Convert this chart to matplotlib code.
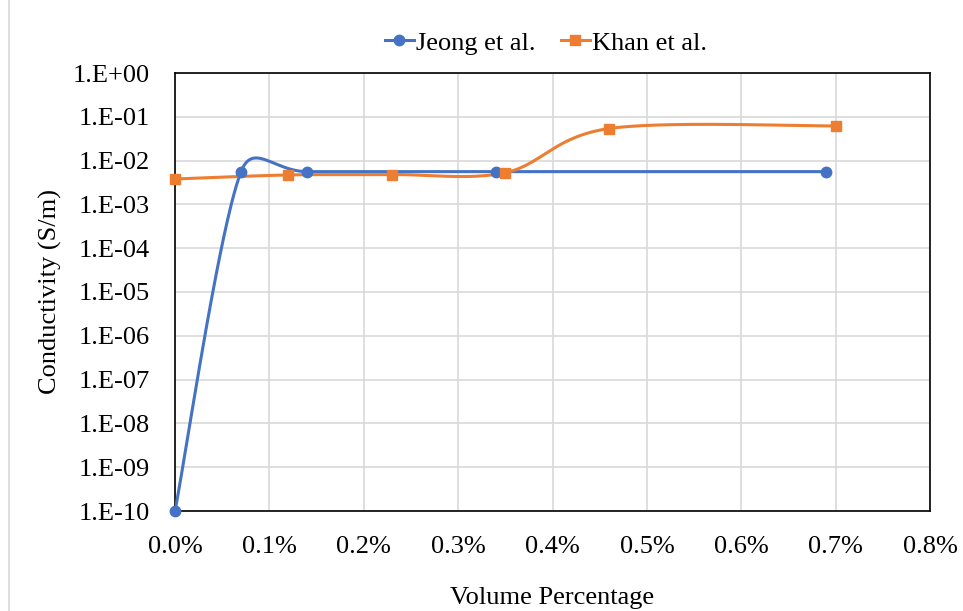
import numpy as np
import matplotlib
matplotlib.use("Agg")
import matplotlib.pyplot as plt
from matplotlib.ticker import FuncFormatter, FixedLocator
from matplotlib.lines import Line2D

plt.rcParams['font.family'] = ['Liberation Serif', 'DejaVu Serif']

# Data (x in volume percent, y in S/m)
jeong_x = [0.0, 0.07, 0.14, 0.34, 0.69]
jeong_y = [1e-10, 5.6e-3, 5.6e-3, 5.6e-3, 5.6e-3]
khan_x = [0.0, 0.12, 0.23, 0.35, 0.46, 0.70]
khan_y = [3.8e-3, 4.7e-3, 4.8e-3, 5.3e-3, 5.4e-2, 6.2e-2]

x_ticks = [0.0, 0.1, 0.2, 0.3, 0.4, 0.5, 0.6, 0.7, 0.8]
y_exps = list(range(-10, 1))

blue = '#4472C4'
orange = '#ED7D31'
grid_c = '#D9D9D9'


def excel_smooth(ax, xs, ys, n=60):
    # catmull-rom style bezier in pixel space, control arms clamped
    # to half of the segment length (close to excel's smoothed line)
    P = ax.transData.transform(np.column_stack([xs, ys]))
    m = len(P)
    tang = []
    for i in range(m):
        a = P[max(i - 1, 0)]
        b = P[min(i + 1, m - 1)]
        tang.append((b - a) / 6.0)
    out = [P[0]]
    for i in range(m - 1):
        p1, p2 = P[i], P[i + 1]
        seg_len = np.linalg.norm(p2 - p1)
        t1, t2 = tang[i], tang[i + 1]
        l1, l2 = np.linalg.norm(t1), np.linalg.norm(t2)
        if l1 > seg_len / 2:
            t1 = t1 * (seg_len / 2) / l1
        if l2 > seg_len / 2:
            t2 = t2 * (seg_len / 2) / l2
        c1 = p1 + t1
        c2 = p2 - t2
        t = np.linspace(0, 1, n)[1:, None]
        seg = (1 - t) ** 3 * p1 + 3 * (1 - t) ** 2 * t * c1 + 3 * (1 - t) * t ** 2 * c2 + t ** 3 * p2
        out.extend(seg)
    out = np.array(out)
    return ax.transData.inverted().transform(out)


fig = plt.figure(figsize=(9.63, 6.11), dpi=100)
ax = fig.add_axes([175 / 963, 1 - 511 / 611, 755 / 963, 438 / 611])

ax.set_yscale('log')
ax.set_xlim(0, 0.8)
ax.set_ylim(1e-10, 1)

ax.xaxis.set_major_locator(FixedLocator(x_ticks))
ax.yaxis.set_major_locator(FixedLocator([10.0 ** e for e in y_exps]))
ax.yaxis.set_minor_locator(FixedLocator([]))
ax.xaxis.set_major_formatter(FuncFormatter(lambda v, p: f"{v:.1f}%"))
ax.yaxis.set_major_formatter(FuncFormatter(lambda v, p: f"1.E{int(round(np.log10(v))):+03d}"))

ax.grid(True, color=grid_c, linewidth=1.2)
ax.set_axisbelow(True)
for s in ax.spines.values():
    s.set_color('black')
    s.set_linewidth(1.2)
ax.tick_params(axis='both', length=0, labelsize=19)
ax.tick_params(axis='y', pad=18)
ax.tick_params(axis='x', pad=18)

js = excel_smooth(ax, jeong_x, jeong_y)
ks = excel_smooth(ax, khan_x, khan_y)
ax.plot(js[:, 0], js[:, 1], color=blue, lw=2.2, solid_capstyle='round', zorder=3)
ax.plot(ks[:, 0], ks[:, 1], color=orange, lw=2.2, solid_capstyle='round', zorder=3)
ax.plot(jeong_x, jeong_y, 'o', color=blue, ms=7.5, zorder=4, clip_on=False)
ax.plot(khan_x, khan_y, 's', color=orange, ms=7, zorder=4, clip_on=False)

ax.set_xlabel('Volume Percentage', fontsize=19, labelpad=21)
ax.set_ylabel('Conductivity (S/m)', fontsize=19, labelpad=8)

handles = [Line2D([], [], color=blue, lw=2.2, marker='o', ms=7.5),
           Line2D([], [], color=orange, lw=2.2, marker='s', ms=7)]
fig.legend(handles, ['Jeong et al.', 'Khan et al.'], loc='center',
           bbox_to_anchor=(546 / 963, 1 - 43 / 611), ncol=2, frameon=False,
           fontsize=19, handlelength=1.1, handletextpad=0.1, columnspacing=0.95)

# light chart border
fig.add_artist(Line2D([9 / 963, 9 / 963], [0, 1], transform=fig.transFigure,
                      color=grid_c, lw=1.2))

fig.savefig('out.png', dpi=100)
